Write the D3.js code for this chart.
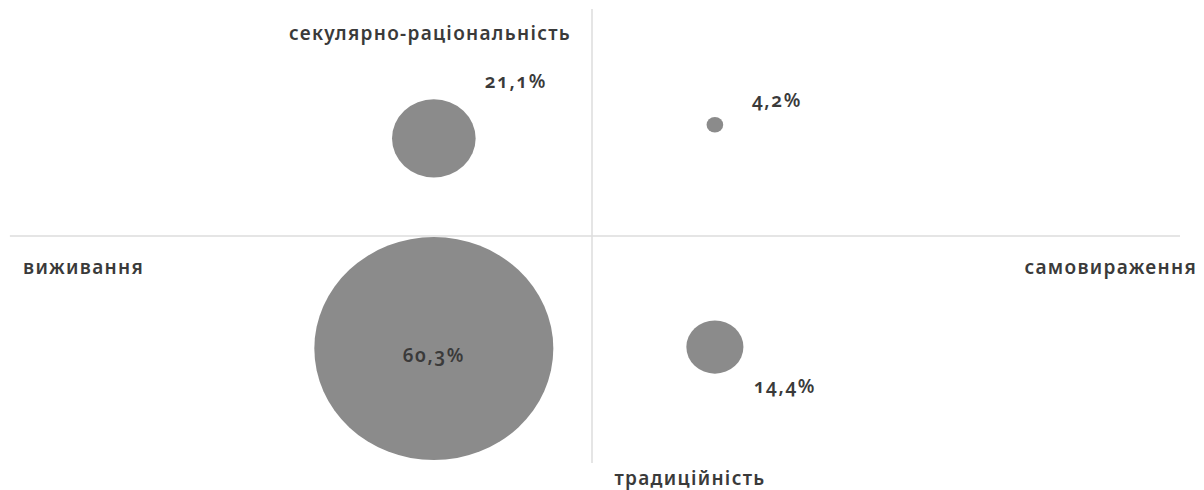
<!DOCTYPE html>
<html>
<head>
<meta charset="utf-8">
<script src="https://cdn.jsdelivr.net/npm/d3@7"></script>
<style>
  html, body { margin: 0; padding: 0; background: #fff; }
  svg { display: block; }
  text { font-family: "Noto Sans", "Open Sans", sans-serif; fill: #3a3a3a; font-variant-numeric: oldstyle-nums; }
</style>
</head>
<body>
<svg id="chart" width="1204" height="490"></svg>
<script>
// Data
const labels = ["21,1%", "4,2%", "60,3%", "14,4%"];
const values = [21.1, 4.2, 60.3, 14.4];
const xPos = [-0.269, 0.209, -0.269, 0.209];   // survival (-) ... self-expression (+)
const yPos = [0.43, 0.49, -0.496, -0.489];      // traditional (-) ... secular-rational (+)
const axisNames = ["виживання", "самовираження", "секулярно-раціональність", "традиційність"];

const W = 1204, H = 490;
const svg = d3.select("#chart");

const x = d3.scaleLinear().domain([-1, 1]).range([4, 1180]);
const y = d3.scaleLinear().domain([-1, 1]).range([463, 9]);
const rx = d3.scaleLinear().domain([0, 60.3]).range([0, 119.5]);
const ry = d3.scaleLinear().domain([0, 60.3]).range([0, 111.5]);

// axes lines
svg.append("line")
  .attr("x1", x(-0.99)).attr("x2", x(1)).attr("y1", y(0)).attr("y2", y(0))
  .attr("stroke", "#dcdcdc").attr("stroke-width", 1.5);
svg.append("line")
  .attr("x1", x(0)).attr("x2", x(0)).attr("y1", y(1)).attr("y2", y(-1))
  .attr("stroke", "#dcdcdc").attr("stroke-width", 1.5);

const data = values.map((v, i) => ({ v, label: labels[i], x: xPos[i], y: yPos[i] }));

svg.selectAll("ellipse.b").data(data).join("ellipse")
  .attr("class", "b")
  .attr("cx", d => x(d.x)).attr("cy", d => y(d.y))
  .attr("rx", d => rx(d.v)).attr("ry", d => ry(d.v))
  .attr("fill", "#8b8b8b");

// value labels: offsets relative to bubble
const labelOffsets = [[82, -50], [62, -18], [0, 13], [70, 46]];
svg.selectAll("text.val").data(data).join("text")
  .attr("class", "val")
  .attr("x", (d, i) => x(d.x) + labelOffsets[i][0])
  .attr("y", (d, i) => y(d.y) + labelOffsets[i][1])
  .attr("text-anchor", "middle")
  .attr("font-size", 19)
  .attr("letter-spacing", 1.6)
  .attr("font-weight", 600)
  .text(d => d.label);

// axis names
const nameFont = 19;
function name(txt, xx, yy, anchor) {
  svg.append("text").attr("x", xx).attr("y", yy).attr("text-anchor", anchor)
    .attr("font-size", nameFont).attr("font-weight", 600)
    .attr("letter-spacing", 1.3).text(txt);
}
name(axisNames[0], 23, 274, "start");
name(axisNames[1], 1197, 274, "end");
name(axisNames[2], 430, 40, "middle");
name(axisNames[3], 690, 485, "middle");
</script>
</body>
</html>
